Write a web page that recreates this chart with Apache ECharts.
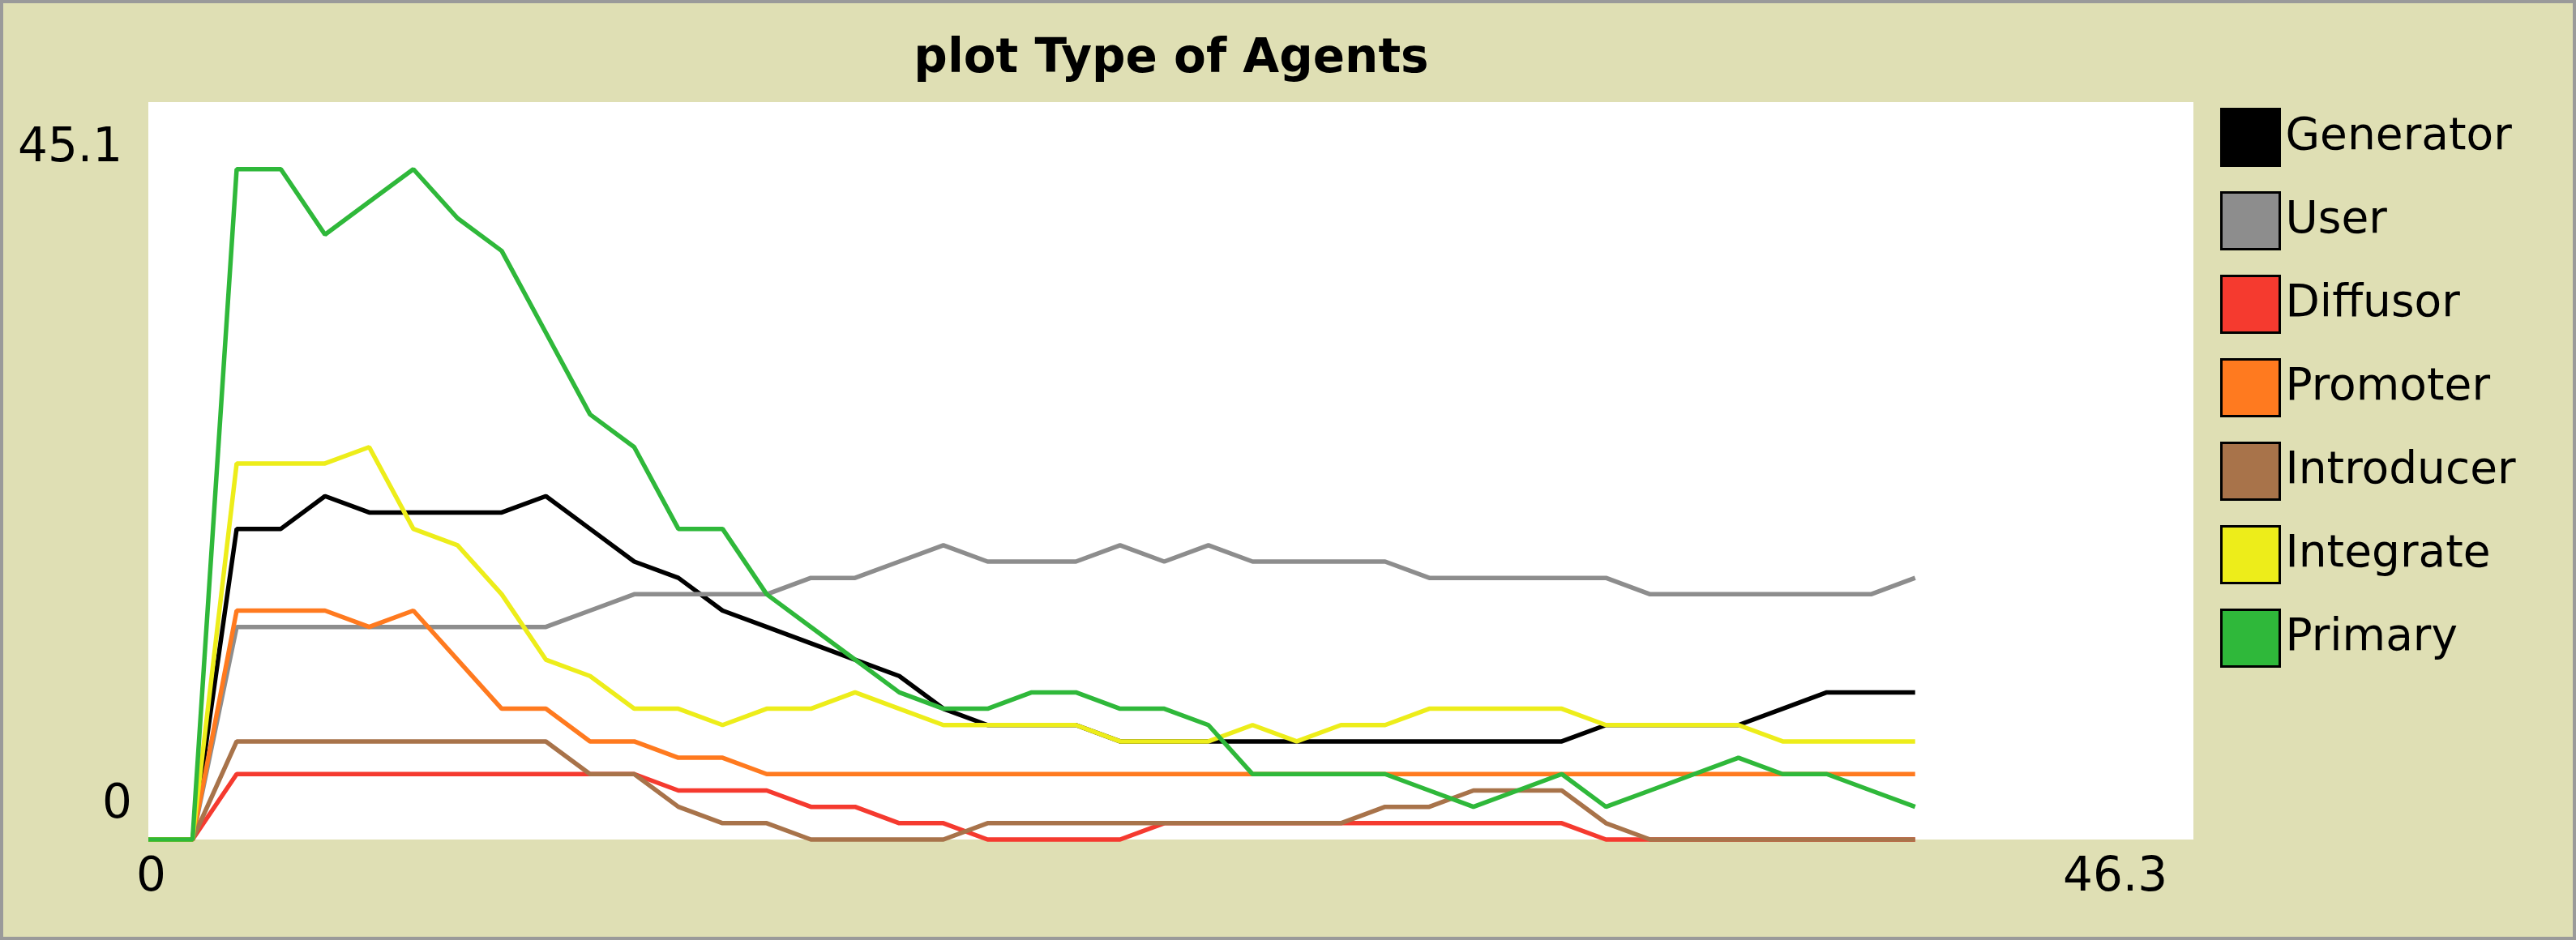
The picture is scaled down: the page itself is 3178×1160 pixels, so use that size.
<!DOCTYPE html>
<html><head><meta charset="utf-8">
<script src="https://cdn.jsdelivr.net/npm/echarts@6/dist/echarts.min.js"></script>
<style>html,body{margin:0;padding:0;background:#fff}#c{width:3178px;height:1160px}</style>
</head><body><div id="c"></div>
<script>
const ticks = [0,1,2,3,4,5,6,7,8,9,10,11,12,13,14,15,16,17,18,19,20,21,22,23,24,25,26,27,28,29,30,31,32,33,34,35,36,37,38,39,40];
const generator = [0,0,19,19,21,20,20,20,20,21,19,17,16,14,13,12,11,10,8,7,7,7,6,6,6,6,6,6,6,6,6,6,6,7,7,7,7,8,9,9,9];
const user      = [0,0,13,13,13,13,13,13,13,13,14,15,15,15,15,16,16,17,18,17,17,17,18,17,18,17,17,17,17,16,16,16,16,16,15,15,15,15,15,15,16];
const diffusor  = [0,0,4,4,4,4,4,4,4,4,4,4,3,3,3,2,2,1,1,0,0,0,0,1,1,1,1,1,1,1,1,1,1,0,0,0,0,0,0,0,0];
const promoter  = [0,0,14,14,14,13,14,11,8,8,6,6,5,5,4,4,4,4,4,4,4,4,4,4,4,4,4,4,4,4,4,4,4,4,4,4,4,4,4,4,4];
const introducer= [0,0,6,6,6,6,6,6,6,6,4,4,2,1,1,0,0,0,0,1,1,1,1,1,1,1,1,1,2,2,3,3,3,1,0,0,0,0,0,0,0];
const integrate = [0,0,23,23,23,24,19,18,15,11,10,8,8,7,8,8,9,8,7,7,7,7,6,6,6,7,6,7,7,8,8,8,8,7,7,7,7,6,6,6,6];
const primary   = [0,0,41,41,37,39,41,38,36,31,26,24,19,19,15,13,11,9,8,8,9,9,8,8,7,4,4,4,4,3,2,3,4,2,3,4,5,4,4,3,2];
const names = ['Generator','User','Diffusor','Promoter','Introducer','Integrate','Primary'];
const colors = ['#000000','#8d8d8d','#f53a2f','#ff7a1f','#a8734a','#eded1a','#2fb83a'];
const xMin = 0, xMax = 46.3, yMin = 0, yMax = 45.1;
const xLabels = ['0','46.3'];
const yLabels = ['45.1','0'];

const all = [generator,user,diffusor,promoter,introducer,integrate,primary];
const chart = echarts.init(document.getElementById('c'));
const font = 'DejaVu Sans';
chart.setOption({
  backgroundColor:'#dfdfb4',
  animation:false,
  title:{text:'plot Type of Agents',left:1440,top:40,textAlign:'center',
    textStyle:{fontFamily:font,fontWeight:'bold',fontSize:58,color:'#000'}},
  grid:{left:183,right:472,top:126,bottom:124,show:true,backgroundColor:'#fff',borderWidth:0},
  xAxis:{type:'value',min:xMin,max:xMax,show:false},
  yAxis:{type:'value',min:yMin,max:yMax,show:false},
  legend:{orient:'vertical',left:2734,top:128,itemWidth:72,itemHeight:70,itemGap:30,icon:'rect',
    data:names,
    itemStyle:{borderColor:'#000',borderWidth:3},
    textStyle:{fontFamily:font,fontSize:55,color:'#000',padding:[0,0,0,2]}},
  graphic:[
    {type:'rect',shape:{x:2,y:2,width:3174,height:1156},style:{fill:'none',stroke:'#9a9a9a',lineWidth:4}},
    {type:'text',x:22,y:155,style:{text:yLabels[0],font:'58px '+font,fill:'#000'}},
    {type:'text',x:126,y:965,style:{text:yLabels[1],font:'58px '+font,fill:'#000'}},
    {type:'text',x:168,y:1055,style:{text:xLabels[0],font:'58px '+font,fill:'#000'}},
    {type:'text',x:2545,y:1055,style:{text:xLabels[1],font:'58px '+font,fill:'#000'}}
  ],
  series: all.map((d,k)=>({
    name:names[k],type:'line',showSymbol:false,clip:false,
    data:ticks.map((t,i)=>[t,d[i]]),
    lineStyle:{color:colors[k],width:5.5},itemStyle:{color:colors[k]}
  }))
});
</script></body></html>
